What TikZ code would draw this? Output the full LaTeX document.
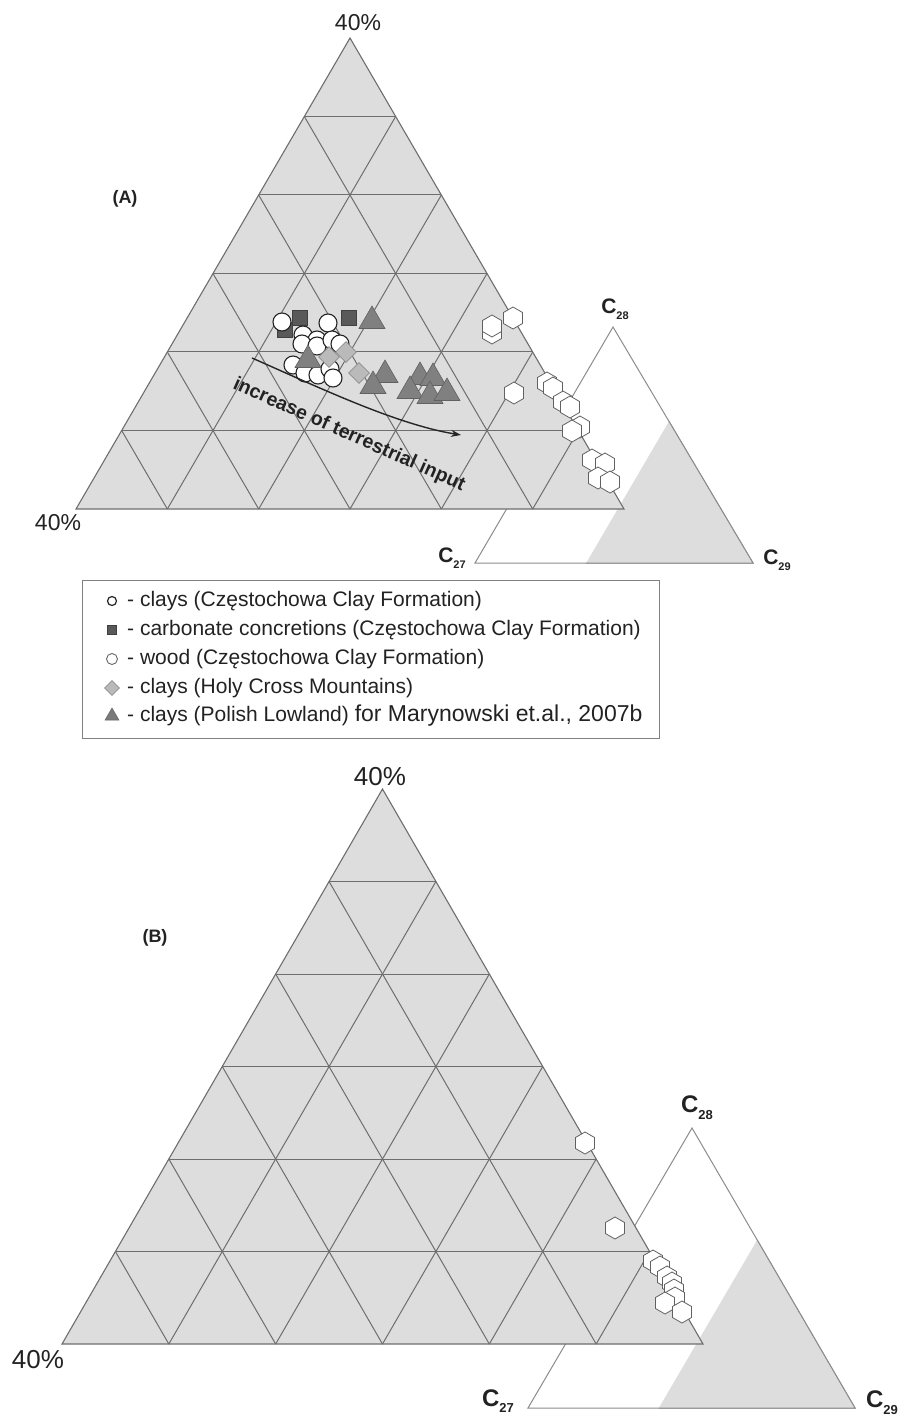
\documentclass[tikz,border=0pt]{standalone}
\usepackage{fontspec}
\setmainfont{Liberation Sans}
\usetikzlibrary{calc,shapes.geometric,arrows.meta}
\definecolor{tgray}{HTML}{DDDDDD}
\definecolor{gline}{HTML}{6E6E6E}
\definecolor{sline}{HTML}{8C8C8C}
\definecolor{txt}{HTML}{222222}
\begin{document}
\begin{tikzpicture}[x=1pt,y=-1pt,
  bigtri/.style={fill=tgray,draw=gline,line width=1.1pt,line join=miter},
  gridline/.style={draw=gline,line width=1.0pt},
  smalltri/.style={fill=white,draw=sline,line width=1.0pt},
  shade/.style={fill=tgray,draw=none},
  circmark/.style={circle,draw=black!85,fill=white,line width=1.1pt,minimum size=18pt,inner sep=0pt},
  sqmark/.style={rectangle,draw=black!75,fill=black!65,minimum size=15pt,inner sep=0pt,line width=0.6pt},
  trimark/.style={regular polygon,regular polygon sides=3,draw=black!62,fill=black!50,minimum size=30pt,inner sep=0pt,line width=0.6pt},
  diamark/.style={diamond,draw=black!45,fill=black!27,minimum size=21pt,inner sep=0pt,line width=0.8pt},
  hexmark/.style={regular polygon,regular polygon sides=6,shape border rotate=30,draw=black!62,fill=white,minimum size=22pt,inner sep=0pt,line width=0.8pt},
  pct/.style={text=txt,inner sep=0pt},
  clab/.style={text=txt,inner sep=0pt,font=\bfseries},
  legtxt/.style={text=txt,anchor=west,inner sep=0pt,font=\fontsize{21}{24}\selectfont},
]
\useasboundingbox (0,0) rectangle (909,1421);

% ================= PANEL A =================
\coordinate (aL) at (76,509);
\coordinate (aR) at (624,509);
\coordinate (aT) at (350,38);
\coordinate (sA27) at (475,563);
\coordinate (sA28) at (613,327);
\coordinate (sA29) at (753,563);

\draw[smalltri] (sA27) -- (sA28) -- (sA29) -- cycle;
\fill[shade] ($(sA29)!0.6!(sA27)$) -- ($(sA29)!0.6!(sA28)$) -- (sA29) -- cycle;
\draw[sline,line width=1.0pt] ($(sA29)!0.6!(sA28)$) -- (sA29) -- ($(sA29)!0.6!(sA27)$);

\draw[bigtri] (aL) -- (aR) -- (aT) -- cycle;
\foreach \k in {1,...,5}{
  \draw[gridline] ($(aT)!{\k/6}!(aL)$) -- ($(aT)!{\k/6}!(aR)$);
  \draw[gridline] ($(aL)!{\k/6}!(aT)$) -- ($(aL)!{\k/6}!(aR)$);
  \draw[gridline] ($(aR)!{\k/6}!(aT)$) -- ($(aR)!{\k/6}!(aL)$);
}

\node[pct,font=\fontsize{23}{23}\selectfont] (aTop) at (358,23) {40\%};
\node[pct,font=\fontsize{23}{23}\selectfont] (aLeft) at (58,523) {40\%};
\node[clab,font=\bfseries\fontsize{18}{18}\selectfont] (Alab) at (125,199) {(A)};

\node[clab,font=\bfseries\fontsize{21}{21}\selectfont] (aC28) at (615,309) {C\raisebox{-0.28em}{\fontsize{11}{11}\selectfont 28}};
\node[clab,font=\bfseries\fontsize{21}{21}\selectfont] (aC27) at (452,558) {C\raisebox{-0.28em}{\fontsize{11}{11}\selectfont 27}};
\node[clab,font=\bfseries\fontsize{21}{21}\selectfont] (aC29) at (777,560) {C\raisebox{-0.28em}{\fontsize{11}{11}\selectfont 29}};

% data: squares
\foreach \x/\y [count=\i] in {300/318,285/330,349/318}
  \node[sqmark] (asq\i) at (\x,\y) {};
% data: circles
\foreach \x/\y [count=\i] in {282/322,328/323,303/335,317/340,302/344,317/346,332/340,340/344,293/365,305/373,318/375,330/369,333/378}
  \node[circmark] (aci\i) at (\x,\y) {};
% data: triangles
\foreach \x/\y [count=\i] in {308/360,372/321,385/375,373/386,420/377,433/378,410/391,430/396,447/393}
  \node[trimark] (atr\i) at (\x,\y) {};
% data: diamonds
\foreach \x/\y [count=\i] in {329/357,346/352,359/373}
  \node[diamark] (adi\i) at (\x,\y) {};
% data: hexagons
\foreach \x/\y [count=\i] in {492/333,492/326,513/318,514/393,547/383,553/388,563/402,570/407,580/427,572/431,592/460,605/464,598/478,610/482}
  \node[hexmark] (ahx\i) at (\x,\y) {};

% arrow and its text
\coordinate (arrS) at (252,358);
\coordinate (arrE) at (461,435);
\draw[-{Stealth[length=10pt,width=7pt]},line width=1.4pt,black!85] (arrS) .. controls (318,387) and (395,424) .. (arrE);
\node[text=txt,rotate=-24,inner sep=0pt,font=\bfseries\fontsize{19.5}{20}\selectfont] (incr) at (349,435) {increase of terrestrial input};

% ================= LEGEND =================
\node[draw=black!50,line width=0.9pt,minimum width=577pt,minimum height=158pt,inner sep=0pt] (legend) at (370.5,659) {};
\node[circle,draw=black!85,fill=white,line width=1.2pt,minimum size=9pt,inner sep=0pt] (ls1) at (112,601) {};
\node[rectangle,fill=black!65,draw=black!75,line width=0.4pt,minimum size=9pt,inner sep=0pt] (ls2) at (112,630) {};
\node[circle,draw=black!60,fill=white,line width=0.9pt,minimum size=11pt,inner sep=0pt] (ls3) at (112,659) {};
\node[diamond,draw=black!45,fill=black!27,line width=0.8pt,minimum size=15pt,inner sep=0pt] (ls4) at (112,688) {};
\node[regular polygon,regular polygon sides=3,fill=black!52,draw=black!62,line width=0.5pt,minimum size=16pt,inner sep=0pt] (ls5) at (112,716) {};
\node[legtxt] (lt1) at (127,601) {- clays (Częstochowa Clay Formation)};
\node[legtxt] (lt2) at (127,630) {- carbonate concretions (Częstochowa Clay Formation)};
\node[legtxt] (lt3) at (127,659) {- wood (Częstochowa Clay Formation)};
\node[legtxt] (lt4) at (127,688) {- clays (Holy Cross Mountains)};
\node[legtxt] (lt5) at (127,716) {- clays (Polish Lowland) {\fontsize{23}{24}\selectfont for Marynowski et.al., 2007b}};

% ================= PANEL B =================
\coordinate (bL) at (62,1344);
\coordinate (bR) at (703,1344);
\coordinate (bT) at (382.5,789);
\coordinate (sB27) at (528,1408);
\coordinate (sB28) at (692,1128);
\coordinate (sB29) at (855,1408);

\draw[smalltri] (sB27) -- (sB28) -- (sB29) -- cycle;
\fill[shade] ($(sB29)!0.6!(sB27)$) -- ($(sB29)!0.6!(sB28)$) -- (sB29) -- cycle;
\draw[sline,line width=1.0pt] ($(sB29)!0.6!(sB28)$) -- (sB29) -- ($(sB29)!0.6!(sB27)$);

\draw[bigtri] (bL) -- (bR) -- (bT) -- cycle;
\foreach \k in {1,...,5}{
  \draw[gridline] ($(bT)!{\k/6}!(bL)$) -- ($(bT)!{\k/6}!(bR)$);
  \draw[gridline] ($(bL)!{\k/6}!(bT)$) -- ($(bL)!{\k/6}!(bR)$);
  \draw[gridline] ($(bR)!{\k/6}!(bT)$) -- ($(bR)!{\k/6}!(bL)$);
}

\node[pct,font=\fontsize{26}{26}\selectfont] (bTop) at (380,777) {40\%};
\node[pct,font=\fontsize{26}{26}\selectfont] (bLeft) at (38,1360) {40\%};
\node[clab,font=\bfseries\fontsize{18}{18}\selectfont] (Blab) at (155,938) {(B)};

\node[clab,font=\bfseries\fontsize{24}{24}\selectfont] (bC28) at (697,1108) {C\raisebox{-0.28em}{\fontsize{13}{13}\selectfont 28}};
\node[clab,font=\bfseries\fontsize{24}{24}\selectfont] (bC27) at (498,1401) {C\raisebox{-0.28em}{\fontsize{13}{13}\selectfont 27}};
\node[clab,font=\bfseries\fontsize{24}{24}\selectfont] (bC29) at (882,1403) {C\raisebox{-0.28em}{\fontsize{13}{13}\selectfont 29}};

\foreach \x/\y [count=\i] in {585/1143,615/1228,653/1261,660/1267,667/1277,672/1283,674/1290,675/1298,665/1303,682/1312}
  \node[hexmark] (bhx\i) at (\x,\y) {};
\end{tikzpicture}
\end{document}
